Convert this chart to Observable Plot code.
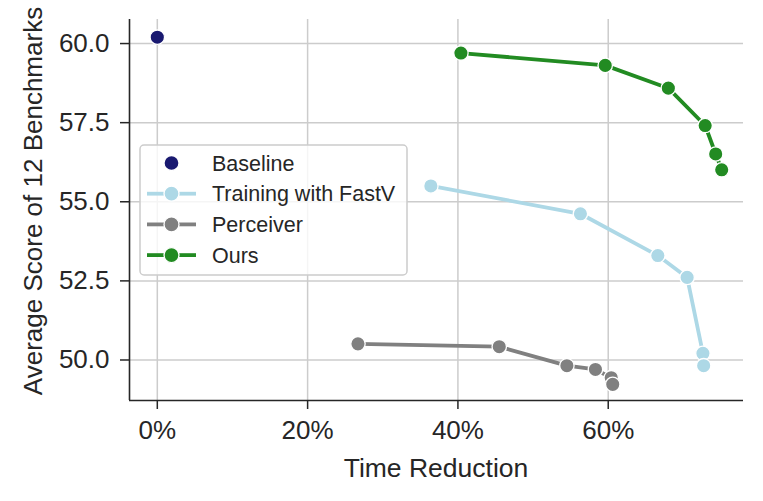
<!DOCTYPE html>
<html>
<head>
<meta charset="utf-8">
<script src="https://cdn.jsdelivr.net/npm/d3@7"></script>
<script src="https://cdn.jsdelivr.net/npm/@observablehq/plot@0.6"></script>
<style>
  html, body { margin: 0; padding: 0; background: white; }
  #chart svg { display: block; }
</style>
</head>
<body>
<div id="chart"></div>
<script>
// ---- data ----
const seriesNames = ["Baseline", "Training with FastV", "Perceiver", "Ours"];
const seriesColors = ["#191970", "#add8e6", "#808080", "#228b22"];

const baselineX = [0];
const baselineY = [60.2];

const fastvX = [36.4, 56.3, 66.6, 70.5, 72.6, 72.7];
const fastvY = [55.5, 54.62, 53.3, 52.61, 50.21, 49.82];

const perceiverX = [26.7, 45.5, 54.5, 58.3, 60.4, 60.6];
const perceiverY = [50.51, 50.42, 49.82, 49.7, 49.44, 49.23];

const oursX = [40.4, 59.6, 68.0, 72.9, 74.3, 75.1];
const oursY = [59.7, 59.31, 58.59, 57.41, 56.51, 56.01];

const xTicks = [0, 20, 40, 60];
const yTicks = [50, 52.5, 55, 57.5, 60];
const xLabel = "Time Reduction";
const yLabel = "Average Score of 12 Benchmarks";

// ---- build tables ----
const toRows = (name, xs, ys) => xs.map((x, i) => ({series: name, x, y: ys[i]}));
const tables = [
  toRows(seriesNames[0], baselineX, baselineY),
  toRows(seriesNames[1], fastvX, fastvY),
  toRows(seriesNames[2], perceiverX, perceiverY),
  toRows(seriesNames[3], oursX, oursY)
];

const xDomain = [-3.7, 78.0];
const yDomain = [48.72, 60.76];
const ink = "#262626";
const grid = "#cccccc";
const font = "'Liberation Sans', Arial, sans-serif";

const marks = [
  Plot.gridX(xTicks, {stroke: grid, strokeOpacity: 1, strokeWidth: 1.5}),
  Plot.gridY(yTicks, {stroke: grid, strokeOpacity: 1, strokeWidth: 1.5})
];
tables.forEach((rows, i) => {
  if (rows.length > 1) {
    marks.push(Plot.line(rows, {x: "x", y: "y", stroke: seriesColors[i], strokeWidth: 3.8}));
  }
  marks.push(Plot.dot(rows, {x: "x", y: "y", r: 7.2, fill: seriesColors[i], stroke: "white", strokeWidth: 1.3}));
});
marks.push(
  Plot.ruleX([xDomain[0]], {stroke: ink, strokeWidth: 1.6}),
  Plot.ruleY([yDomain[0]], {stroke: ink, strokeWidth: 1.6}),
  Plot.axisX(xTicks, {tickFormat: d => d + "%", tickSize: 9, tickPadding: 11, fontSize: 26, stroke: ink, fill: ink, strokeWidth: 1.5, label: null}),
  Plot.axisY(yTicks, {tickFormat: d3.format(".1f"), tickSize: 9, tickPadding: 11, fontSize: 26, stroke: ink, fill: ink, strokeWidth: 1.5, label: null})
);

const chart = Plot.plot({
  width: 763,
  height: 501,
  marginLeft: 129,
  marginRight: 20,
  marginTop: 19,
  marginBottom: 101,
  style: {fontFamily: font, background: "white", color: ink},
  x: {domain: xDomain},
  y: {domain: yDomain},
  marks
});
document.getElementById("chart").appendChild(chart);

// ---- axis labels and legend ----
const svg = d3.select(chart);
svg.append("text")
  .attr("x", 436).attr("y", 477)
  .attr("text-anchor", "middle")
  .attr("font-size", 26.5).attr("fill", ink)
  .attr("font-family", font)
  .text(xLabel);
svg.append("text")
  .attr("transform", "translate(42,201) rotate(-90)")
  .attr("text-anchor", "middle")
  .attr("font-size", 26).attr("fill", ink)
  .attr("font-family", font)
  .text(yLabel);

const lg = svg.append("g").attr("font-family", font).attr("text-anchor", "start");
lg.append("rect")
  .attr("x", 140).attr("y", 145).attr("width", 267).attr("height", 130)
  .attr("rx", 4).attr("fill", "white").attr("fill-opacity", 0.8)
  .attr("stroke", "#cccccc").attr("stroke-width", 1.5);
seriesNames.forEach((name, i) => {
  const cy = 163 + i * 30.7;
  if (i > 0) {
    lg.append("line").attr("x1", 147).attr("x2", 164).attr("y1", cy).attr("y2", cy)
      .attr("stroke", seriesColors[i]).attr("stroke-width", 3.8);
    lg.append("line").attr("x1", 179).attr("x2", 196).attr("y1", cy).attr("y2", cy)
      .attr("stroke", seriesColors[i]).attr("stroke-width", 3.8);
  }
  lg.append("circle").attr("cx", 171.5).attr("cy", cy).attr("r", 7.5)
    .attr("fill", seriesColors[i]).attr("stroke", "white").attr("stroke-width", 1.3);
  lg.append("text").attr("x", 212).attr("y", cy).attr("dy", "0.36em")
    .attr("text-anchor", "start")
    .attr("font-size", 21.5).attr("fill", ink).text(name);
});
</script>
</body>
</html>
